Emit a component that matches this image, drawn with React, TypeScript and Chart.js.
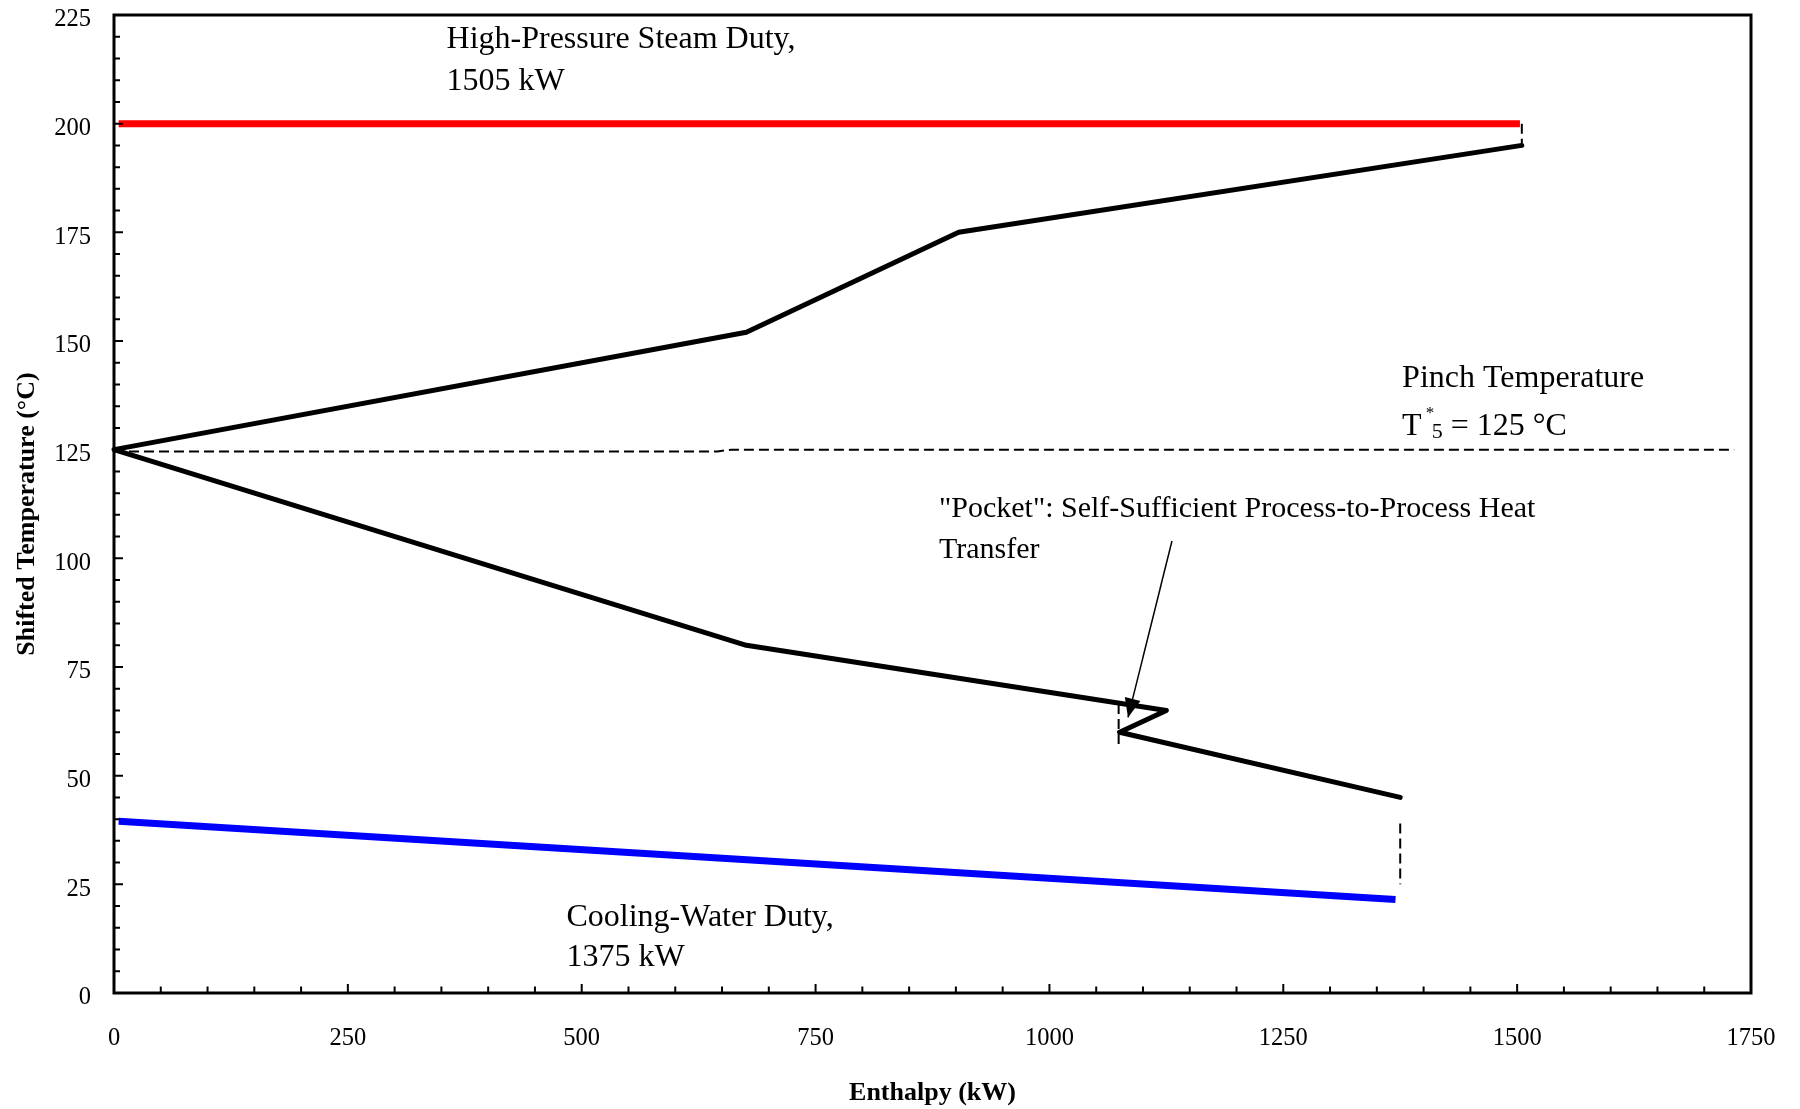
import React, { useEffect, useRef } from 'react';
import { Chart, registerables } from 'chart.js';

Chart.register(...registerables);

const SERIF = "'Liberation Serif', 'Times New Roman', Times, serif";

// ---- data (kW, °C) ----
const xTickValues = [0, 250, 500, 750, 1000, 1250, 1500, 1750];
const yTickValues = [0, 25, 50, 75, 100, 125, 150, 175, 200, 225];

const gccEnthalpy = [1505, 903, 676, 0, 676, 1125, 1075, 1375];
const gccTemperature = [195, 175, 152, 125, 80, 65, 60, 45];

const steamEnthalpy = [5, 1503];
const steamTemperature = [200, 200];

const coolingEnthalpy = [5, 1370];
const coolingTemperature = [39.5, 21.5];

const pinchEnthalpy = [0, 645, 660, 1732];
const pinchTemperature = [124.6, 124.6, 125, 125];

const steamGapEnthalpy = [1505, 1505];
const steamGapTemperature = [200, 195.5];

const coolingGapEnthalpy = [1375, 1375];
const coolingGapTemperature = [39, 25];

const pocketGapEnthalpy = [1074, 1074];
const pocketGapTemperature = [66.5, 57];

const arrowEnthalpy = [1131, 1084];
const arrowTemperature = [104, 63.4];

const xTitle = 'Enthalpy (kW)';
const yTitle = 'Shifted Temperature (°C)';

const toPoints = (xs: number[], ys: number[]) => xs.map((x, i) => ({ x, y: ys[i] }));

// annotation texts anchored in data units (kW, °C baseline)
const annotations = [
  { lines: ['High-Pressure Steam Duty,', '1505 kW'], x: 355.5, y: [217.3, 207.7], size: 32 },
  { lines: ['Cooling-Water Duty,', '1375 kW'], x: 483.7, y: [15.5, 6.2], size: 32 },
  { lines: ['Pinch Temperature'], x: 1377, y: [139.5], size: 32 },
  { lines: ['"Pocket": Self-Sufficient Process-to-Process Heat', 'Transfer'], x: 882, y: [109.5, 100.1], size: 30 },
];
const pinchLabel = { x: 1377, y: 128.3, size: 32 };

const overlayPlugin = {
  id: 'overlay',
  afterDatasetsDraw(chart: any) {
    const { ctx, chartArea: a, scales } = chart;
    const xs = scales.x;
    const ys = scales.y;
    ctx.save();

    // arrowhead on the pocket arrow dataset
    const meta = chart.getDatasetMeta(chart.data.datasets.findIndex((d: any) => d.id === 'arrow'));
    if (meta && meta.data.length >= 2) {
      const p0 = meta.data[0];
      const p1 = meta.data[1];
      const dx = p1.x - p0.x;
      const dy = p1.y - p0.y;
      const L = Math.hypot(dx, dy);
      const ux = dx / L;
      const uy = dy / L;
      const len = 19;
      const hw = 8;
      ctx.beginPath();
      ctx.moveTo(p1.x, p1.y);
      ctx.lineTo(p1.x - ux * len - uy * hw, p1.y - uy * len + ux * hw);
      ctx.lineTo(p1.x - ux * len + uy * hw, p1.y - uy * len - ux * hw);
      ctx.closePath();
      ctx.fillStyle = '#000';
      ctx.fill();
    }

    // texts
    ctx.fillStyle = '#000';
    ctx.textAlign = 'left';
    ctx.textBaseline = 'alphabetic';
    annotations.forEach((an) => {
      ctx.font = `${an.size}px ${SERIF}`;
      const px = xs.getPixelForValue(an.x);
      an.lines.forEach((t, i) => {
        ctx.fillText(t, px, ys.getPixelForValue(an.y[i]));
      });
    });

    // T*5 = 125 °C
    {
      const px = xs.getPixelForValue(pinchLabel.x);
      const py = ys.getPixelForValue(pinchLabel.y);
      ctx.font = `${pinchLabel.size}px ${SERIF}`;
      ctx.fillText('T', px, py);
      const tw = ctx.measureText('T').width;
      ctx.font = `17px ${SERIF}`;
      ctx.fillText('*', px + tw + 4, py - 17);
      ctx.font = `22px ${SERIF}`;
      ctx.fillText('5', px + tw + 10, py + 3);
      const fw = ctx.measureText('5').width;
      ctx.font = `${pinchLabel.size}px ${SERIF}`;
      ctx.fillText('= 125 °C', px + tw + 10 + fw + 8, py);
    }

    // y-axis title
    ctx.save();
    ctx.translate(27, (a.top + a.bottom) / 2 + 10);
    ctx.rotate(-Math.PI / 2);
    ctx.font = `bold 26px ${SERIF}`;
    ctx.textAlign = 'center';
    ctx.textBaseline = 'middle';
    ctx.fillText(yTitle, 0, 0);
    ctx.restore();

    // inward tick marks
    ctx.strokeStyle = '#000';
    ctx.lineWidth = 2;
    ctx.beginPath();
    for (let v = ys.min; v <= ys.max + 1e-6; v += 5) {
      const p = ys.getPixelForValue(v);
      const l = Math.abs(v % 25) < 1e-6 ? 9 : 6;
      ctx.moveTo(a.left, p);
      ctx.lineTo(a.left + l, p);
    }
    for (let v = xs.min; v <= xs.max + 1e-6; v += 50) {
      const p = xs.getPixelForValue(v);
      const l = Math.abs(v % 250) < 1e-6 ? 9 : 6.5;
      ctx.moveTo(p, a.bottom);
      ctx.lineTo(p, a.bottom - l);
    }
    ctx.stroke();

    // frame
    ctx.lineWidth = 3;
    ctx.strokeRect(a.left, a.top, a.right - a.left, a.bottom - a.top);
    ctx.restore();
  },
};

export default function App() {
  const ref = useRef<HTMLCanvasElement | null>(null);

  useEffect(() => {
    if (!ref.current) return;
    const dashed = (id: string, xs: number[], ys: number[]) => ({
      id,
      data: toPoints(xs, ys),
      borderColor: '#000',
      borderWidth: 2,
      borderDash: [10, 5],
      pointRadius: 0,
      fill: false,
      tension: 0,
      clip: false as any,
    });
    const chart = new Chart(ref.current, {
      type: 'line',
      data: {
        datasets: [
          {
            id: 'arrow',
            data: toPoints(arrowEnthalpy, arrowTemperature),
            borderColor: '#000',
            borderWidth: 1.5,
            pointRadius: 0,
            tension: 0,
            fill: false,
          } as any,
          {
            id: 'gcc',
            data: toPoints(gccEnthalpy, gccTemperature),
            borderColor: '#000',
            borderWidth: 5,
            borderCapStyle: 'round',
            borderJoinStyle: 'round',
            pointRadius: 0,
            tension: 0,
            fill: false,
            clip: false,
          } as any,
          {
            id: 'steam',
            data: toPoints(steamEnthalpy, steamTemperature),
            borderColor: '#ff0000',
            borderWidth: 7,
            borderCapStyle: 'butt',
            pointRadius: 0,
            tension: 0,
            fill: false,
          } as any,
          {
            id: 'cooling',
            data: toPoints(coolingEnthalpy, coolingTemperature),
            borderColor: '#0000ff',
            borderWidth: 7,
            borderCapStyle: 'butt',
            pointRadius: 0,
            tension: 0,
            fill: false,
          } as any,
          dashed('pinch', pinchEnthalpy, pinchTemperature) as any,
          dashed('steamGap', steamGapEnthalpy, steamGapTemperature) as any,
          dashed('coolingGap', coolingGapEnthalpy, coolingGapTemperature) as any,
          dashed('pocketGap', pocketGapEnthalpy, pocketGapTemperature) as any,
        ],
      },
      options: {
        animation: false,
        responsive: true,
        maintainAspectRatio: false,
        devicePixelRatio: 1,
        layout: { padding: { left: 0, right: 49, top: 15, bottom: 0 } },
        plugins: {
          legend: { display: false },
          tooltip: { enabled: false },
        },
        scales: {
          x: {
            type: 'linear',
            min: 0,
            max: 1750,
            afterBuildTicks: (s: any) => {
              s.ticks = xTickValues.map((v) => ({ value: v }));
            },
            afterFit: (s: any) => {
              s.height = 116;
              s.paddingLeft = 0;
              s.paddingRight = 0;
            },
            grid: { display: false, drawTicks: false },
            border: { display: false },
            ticks: {
              color: '#000',
              padding: 31,
              maxRotation: 0,
              autoSkip: false,
              callback: (v: any) => String(v),
              font: { family: SERIF, size: 24.5 },
            },
            title: {
              display: true,
              text: xTitle,
              color: '#000',
              padding: { top: 0, bottom: 0.5 },
              font: { family: SERIF, size: 26, weight: 'bold' },
            },
          },
          y: {
            type: 'linear',
            min: 0,
            max: 225,
            afterBuildTicks: (s: any) => {
              s.ticks = yTickValues.map((v) => ({ value: v }));
            },
            afterFit: (s: any) => {
              s.width = 114;
              s.paddingTop = 0;
              s.paddingBottom = 0;
            },
            grid: { display: false, drawTicks: false },
            border: { display: false },
            ticks: {
              color: '#000',
              padding: 23,
              labelOffset: 5,
              autoSkip: false,
              callback: (v: any) => String(v),
              font: { family: SERIF, size: 24.5 },
            },
            title: { display: false },
          },
        },
      } as any,
      plugins: [overlayPlugin],
    });
    return () => chart.destroy();
  }, []);

  return (
    <div style={{ position: 'fixed', left: 0, top: 0, width: 1800, height: 1109, background: '#fff' }}>
      <canvas ref={ref} />
    </div>
  );
}
